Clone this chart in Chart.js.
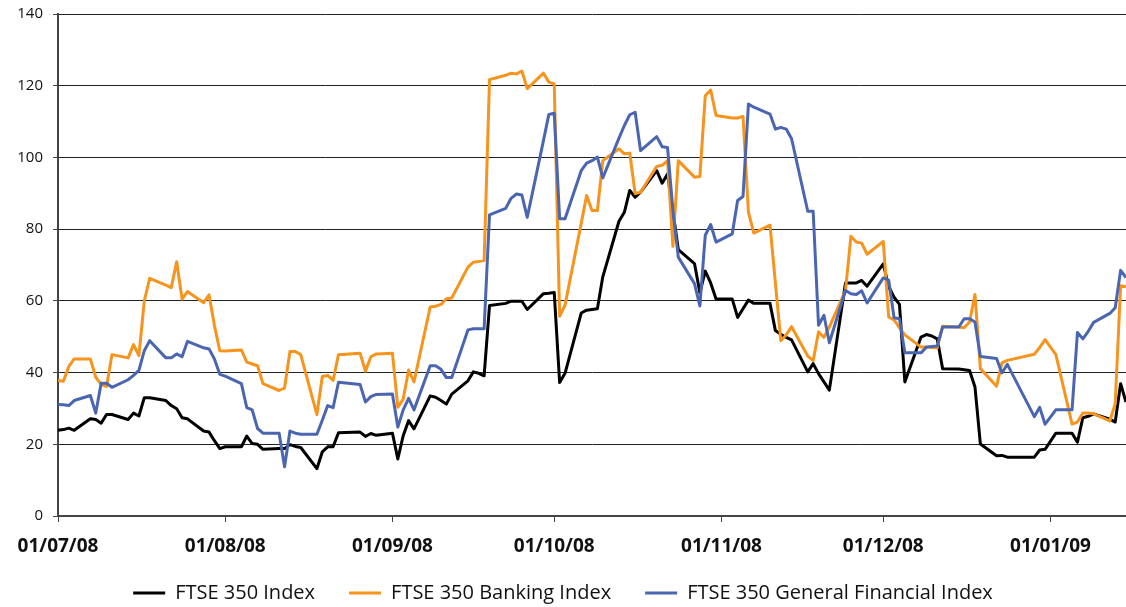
<!DOCTYPE html>
<html>
<head>
<meta charset="utf-8">
<script src="https://cdn.jsdelivr.net/npm/chart.js@4.4.1/dist/chart.umd.min.js"></script>
<style>
  html, body { margin: 0; padding: 0; background: #fff; }
</style>
</head>
<body>
<canvas id="chart" width="1126" height="607"></canvas>
<script>
// trading days, 1 Jul 2008 - 15 Jan 2009
const dates = [
  '2008-07-01','2008-07-02','2008-07-03','2008-07-04','2008-07-07','2008-07-08','2008-07-09','2008-07-10','2008-07-11',
  '2008-07-14','2008-07-15','2008-07-16','2008-07-17','2008-07-18','2008-07-21','2008-07-22','2008-07-23','2008-07-24',
  '2008-07-25','2008-07-28','2008-07-29','2008-07-30','2008-07-31',
  '2008-08-01','2008-08-04','2008-08-05','2008-08-06','2008-08-07','2008-08-08','2008-08-11','2008-08-12','2008-08-13',
  '2008-08-14','2008-08-15','2008-08-18','2008-08-19','2008-08-20','2008-08-21','2008-08-22','2008-08-26','2008-08-27',
  '2008-08-28','2008-08-29',
  '2008-09-01','2008-09-02','2008-09-03','2008-09-04','2008-09-05','2008-09-08','2008-09-09','2008-09-10','2008-09-11',
  '2008-09-12','2008-09-15','2008-09-16','2008-09-17','2008-09-18','2008-09-19','2008-09-22','2008-09-23','2008-09-24',
  '2008-09-25','2008-09-26','2008-09-29','2008-09-30',
  '2008-10-01','2008-10-02','2008-10-03','2008-10-06','2008-10-07','2008-10-08','2008-10-09','2008-10-10','2008-10-13',
  '2008-10-14','2008-10-15','2008-10-16','2008-10-17','2008-10-20','2008-10-21','2008-10-22','2008-10-23','2008-10-24',
  '2008-10-27','2008-10-28','2008-10-29','2008-10-30','2008-10-31',
  '2008-11-03','2008-11-04','2008-11-05','2008-11-06','2008-11-07','2008-11-10','2008-11-11','2008-11-12','2008-11-13',
  '2008-11-14','2008-11-17','2008-11-18','2008-11-19','2008-11-20','2008-11-21','2008-11-24','2008-11-25','2008-11-26',
  '2008-11-27','2008-11-28',
  '2008-12-01','2008-12-02','2008-12-03','2008-12-04','2008-12-05','2008-12-08','2008-12-09','2008-12-10','2008-12-11',
  '2008-12-12','2008-12-15','2008-12-16','2008-12-17','2008-12-18','2008-12-19','2008-12-22','2008-12-23','2008-12-24',
  '2008-12-29','2008-12-30','2008-12-31',
  '2009-01-02','2009-01-05','2009-01-06','2009-01-07','2009-01-08','2009-01-09','2009-01-12','2009-01-13','2009-01-14',
  '2009-01-15'
];

const ftse350 = [
  23.9, 24.1, 24.5, 23.9, 27.1, 26.9, 25.9, 28.3, 28.3, 26.9, 28.7, 27.9, 33.0, 33.0, 32.2, 30.8, 29.9, 27.4, 27.1, 23.7, 23.4, 21.0, 18.8,
  19.3, 19.3, 22.3, 20.2, 20.0, 18.6, 18.8, 18.8, 19.9, 19.4, 19.1, 13.2, 17.9, 19.3, 19.3, 23.2, 23.4, 22.2, 23.0, 22.5,
  23.1, 15.9, 22.4, 26.6, 24.3, 33.5, 33.1, 32.2, 31.2, 34.0, 37.7, 40.2, 39.8, 39.1, 58.7, 59.3, 59.9, 59.9, 59.9, 57.6, 62.0, 62.1,
  62.3, 37.2, 39.8, 56.6, 57.4, 57.6, 57.8, 66.7, 82.2, 84.7, 90.8, 88.9, 90.3, 96.3, 92.8, 95.4, 85.0, 74.3, 70.4, 62.3, 68.3, 65.0, 60.5,
  60.5, 55.4, 57.8, 60.2, 59.3, 59.3, 51.7, 50.7, 49.8, 49.1, 40.2, 42.5, 39.7, 37.4, 35.1, 65.0, 65.0, 65.0, 65.7, 64.1,
  70.3, 64.0, 61.0, 59.0, 37.4, 49.9, 50.6, 50.2, 49.4, 41.1, 41.0, 40.8, 40.6, 36.0, 20.1, 16.8, 16.9, 16.4, 16.4, 18.4, 18.6,
  23.1, 23.1, 20.6, 27.4, 27.8, 28.5, 27.0, 26.2, 36.9, 31.8
];

const banking = [
  37.8, 37.6, 41.7, 43.8, 43.8, 38.7, 36.7, 36.1, 45.0, 44.1, 47.8, 44.7, 60.0, 66.3, 64.4, 63.7, 70.9, 60.5, 62.6, 59.5, 61.7, 53.1, 46.1,
  46.0, 46.3, 42.9, 42.4, 41.9, 36.9, 35.0, 35.7, 45.9, 45.9, 45.0, 28.3, 38.9, 39.2, 37.8, 45.0, 45.4, 40.4, 44.4, 45.2,
  45.4, 30.3, 32.6, 40.7, 37.4, 58.3, 58.5, 59.0, 60.6, 60.8, 69.4, 70.8, 71.0, 71.3, 121.7, 122.9, 123.5, 123.3, 124.1, 119.2, 123.5, 121.0,
  120.5, 55.7, 58.8, 81.6, 89.4, 85.2, 85.2, 99.1, 102.4, 101.0, 101.2, 89.9, 90.3, 97.5, 97.8, 99.1, 75.2, 99.1, 94.5, 94.7, 117.2, 118.8, 111.7,
  111.0, 111.0, 111.4, 84.7, 78.9, 81.1, 65.0, 48.9, 50.5, 52.8, 44.6, 43.3, 51.4, 49.8, 52.7, 62.9, 78.0, 76.4, 76.1, 73.0,
  76.6, 55.5, 54.7, 52.5, 50.5, 47.1, 47.1, 47.0, 46.9, 52.9, 52.7, 52.5, 54.1, 61.8, 41.1, 36.2, 42.7, 43.4, 45.1, 47.0, 49.2,
  45.0, 25.6, 26.2, 28.7, 28.7, 28.5, 26.5, 31.3, 64.2, 63.9
];

const generalFinancial = [
  31.1, 31.0, 30.8, 32.2, 33.6, 28.7, 37.0, 37.0, 35.9, 38.0, 39.2, 40.6, 46.1, 48.9, 44.1, 44.1, 45.2, 44.4, 48.7, 46.9, 46.6, 43.8, 39.5,
  39.0, 36.9, 30.2, 29.6, 24.4, 23.1, 23.1, 13.7, 23.7, 23.1, 22.8, 22.8, 26.7, 30.8, 30.2, 37.3, 36.7, 31.8, 33.3, 33.9,
  34.0, 24.8, 29.6, 32.8, 29.6, 41.9, 41.9, 40.9, 38.6, 38.6, 51.9, 52.2, 52.2, 52.2, 84.0, 85.8, 88.6, 89.8, 89.5, 83.3, 104.7, 112.0,
  112.3, 82.9, 82.9, 96.3, 98.4, 99.1, 100.1, 94.3, 105.4, 108.9, 111.9, 112.6, 101.9, 105.8, 103.0, 102.8, 85.2, 72.2, 64.8, 58.6, 78.3, 81.3, 76.4,
  78.7, 88.0, 89.1, 114.9, 114.0, 112.1, 107.9, 108.4, 107.9, 105.2, 85.0, 85.0, 53.2, 56.0, 48.3, 62.9, 62.0, 61.8, 62.8, 59.4,
  66.4, 65.8, 55.3, 55.0, 45.5, 45.5, 47.1, 47.3, 47.4, 52.7, 52.7, 55.0, 55.0, 54.1, 44.5, 43.9, 39.9, 42.3, 27.7, 30.3, 25.6,
  29.6, 29.6, 51.2, 49.4, 51.5, 54.0, 56.5, 58.1, 68.5, 66.5
];

const tickDates = ['2008-07-01', '2008-08-01', '2008-09-01', '2008-10-01', '2008-11-01', '2008-12-01', '2009-01-01'];
const tickLabels = ['01/07/08', '01/08/08', '01/09/08', '01/10/08', '01/11/08', '01/12/08', '01/01/09'];

// days since 1 Jul 2008, so the x axis is a plain calendar scale
const start = Date.UTC(2008, 6, 1);
function dayOf(iso) {
  const [y, m, d] = iso.split('-').map(Number);
  return (Date.UTC(y, m - 1, d) - start) / 86400000;
}
const xDays = dates.map(dayOf);
const tickDays = tickDates.map(dayOf);

function points(values) {
  return values.map((v, i) => ({ x: xDays[i], y: v }));
}

const font = "'Open Sans', 'DejaVu Sans', sans-serif";

const ctx = document.getElementById('chart').getContext('2d');
const chart = new Chart(ctx, {
  type: 'line',
  data: {
    datasets: [{
      label: 'FTSE 350 Index',
      data: points(ftse350),
      borderColor: '#000000',
      backgroundColor: '#000000',
      borderWidth: 3,
      order: 3
    }, {
      label: 'FTSE 350 Banking Index',
      data: points(banking),
      borderColor: '#f7941d',
      backgroundColor: '#f7941d',
      borderWidth: 3,
      order: 2
    }, {
      label: 'FTSE 350 General Financial Index',
      data: points(generalFinancial),
      borderColor: '#4a66b0',
      backgroundColor: '#4a66b0',
      borderWidth: 3,
      order: 1
    }]
  },
  options: {
    responsive: false,
    animation: false,
    devicePixelRatio: 1,
    layout: { padding: { top: 14, left: 0, right: 0, bottom: 0 } },
    elements: {
      point: { radius: 0, hoverRadius: 0 },
      line: { tension: 0, borderJoinStyle: 'round' }
    },
    plugins: {
      tooltip: { enabled: false },
      legend: {
        position: 'bottom',
        maxHeight: 58,
        labels: {
          usePointStyle: true,
          pointStyle: 'line',
          pointStyleWidth: 32,
          boxWidth: 32,
          padding: 34,
          color: '#111',
          font: { family: font, size: 20 },
          sort: (a, b) => a.datasetIndex - b.datasetIndex
        }
      }
    },
    scales: {
      x: {
        type: 'linear',
        min: 0,
        max: xDays[xDays.length - 1],
        afterBuildTicks: axis => { axis.ticks = tickDays.map(v => ({ value: v })); },
        afterFit: scale => {
          scale.height = 33;
          // labels hang a little below the short axis box, so don't clip them
          scale._computeLabelArea = () => undefined;
        },
        ticks: {
          autoSkip: false,
          maxRotation: 0,
          padding: 13,
          color: '#111',
          font: { family: font, size: 19, weight: 'bold' },
          callback: v => tickLabels[tickDays.indexOf(v)]
        },
        grid: { drawOnChartArea: false, drawTicks: true, tickLength: 6, color: '#444' },
        border: { color: '#444', width: 2 }
      },
      y: {
        min: 0,
        max: 140,
        afterFit: scale => {
          scale.width = 58;
          scale.paddingTop = 0;
        },
        ticks: {
          stepSize: 20,
          padding: 10,
          color: '#111',
          font: { family: font, size: 15 }
        },
        grid: { color: '#222', lineWidth: 1, tickLength: 5, tickColor: '#444' },
        border: { color: '#444', width: 2 }
      }
    }
  }
});
</script>
</body>
</html>
